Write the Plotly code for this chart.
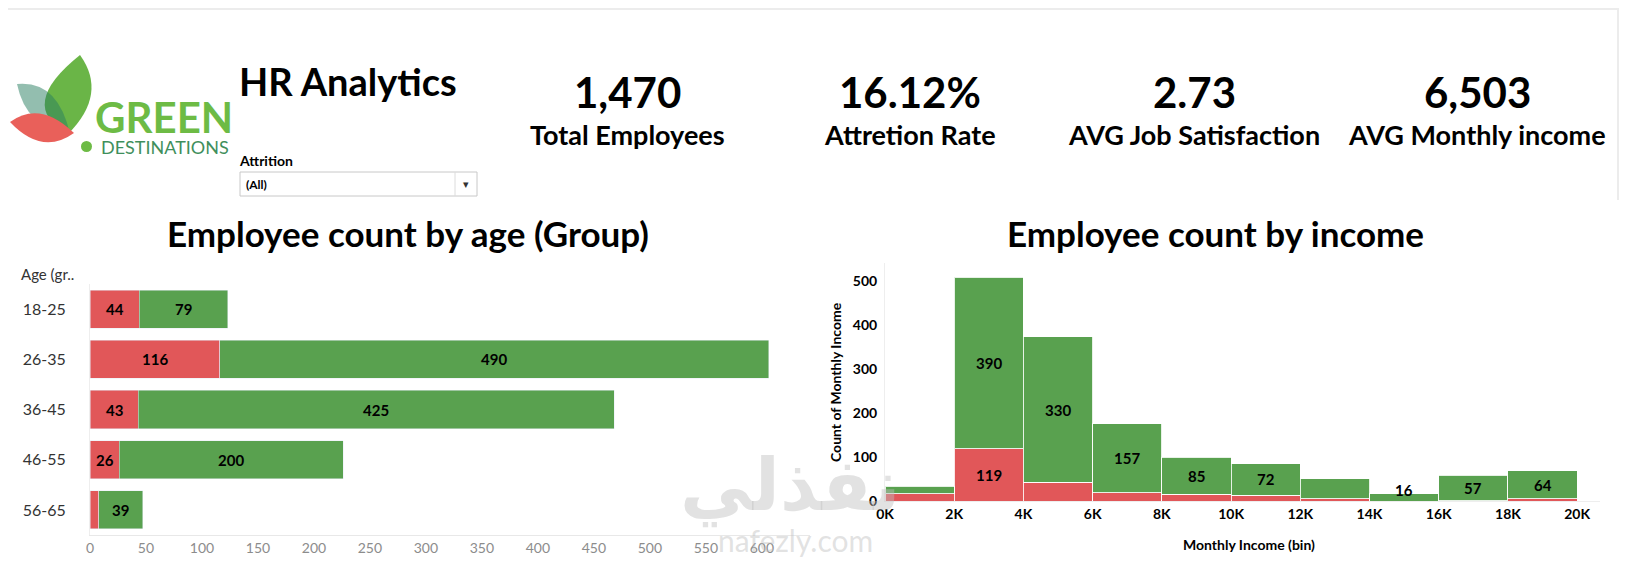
import plotly.graph_objects as go

W, H = 1627, 566
OFF = 8  # the page body margin moves the figure by this much

# --- data -------------------------------------------------------------
age_groups = ["18-25", "26-35", "36-45", "46-55", "56-65"]
age_left = [44, 116, 43, 26, 8]          # attrition = Yes (red)
age_stayed = [79, 490, 425, 200, 39]     # attrition = No (green)
age_ticks = [0, 50, 100, 150, 200, 250, 300, 350, 400, 450, 500, 550, 600]

income_bins = [0, 2000, 4000, 6000, 8000, 10000, 12000, 14000, 16000, 18000]
income_left = [17, 119, 43, 19, 15, 13, 5, 0, 1, 5]
income_stayed = [16, 390, 330, 157, 85, 72, 46, 16, 57, 64]
show_left_label = [False, True, False, False, False, False, False, False, False, False]
show_stayed_label = [False, True, True, True, True, True, False, True, True, True]
income_ticks = [0, 2000, 4000, 6000, 8000, 10000, 12000, 14000, 16000, 18000, 20000]
income_ticktext = ["0K", "2K", "4K", "6K", "8K", "10K", "12K", "14K", "16K", "18K", "20K"]
count_ticks = [0, 100, 200, 300, 400, 500]

kpi_values = ["1,470", "16.12%", "2.73", "6,503"]
kpi_labels = ["Total Employees", "Attretion Rate", "AVG Job Satisfaction", "AVG Monthly income"]

RED = "#e15759"
GREEN = "#59a14f"
FONT = "Lato"
FW, FH = W - OFF, H - OFF


def px(x):
    return (x - OFF) / FW


def py(y):
    return 1 - (y - OFF) / FH


def text(x, y, s, font, **kw):
    d = dict(x=px(x), y=py(y), xref="paper", yref="paper", text=s, showarrow=False,
             xanchor="center", yanchor="middle", font=font)
    d.update(kw)
    return d


fig = go.Figure()

# age chart (left)
fig.add_trace(go.Bar(y=age_groups, x=age_left, orientation="h", marker_color=RED,
                     xaxis="x", yaxis="y", name="Yes"))
fig.add_trace(go.Bar(y=age_groups, x=age_stayed, orientation="h", marker_color=GREEN,
                     xaxis="x", yaxis="y", name="No"))

# income histogram (right)
fig.add_trace(go.Bar(x=income_bins, y=income_left, width=2000, offset=0, marker_color=RED,
                     marker_line=dict(color="rgba(255,255,255,0.85)", width=1),
                     xaxis="x2", yaxis="y2", name="Yes"))
fig.add_trace(go.Bar(x=income_bins, y=income_stayed, width=2000, offset=0, marker_color=GREEN,
                     marker_line=dict(color="rgba(255,255,255,0.85)", width=1),
                     xaxis="x2", yaxis="y2", name="No"))

label_font = dict(family=FONT, size=15, color="black", weight="bold")
ann = []

# bar labels, age
for g, l, s in zip(age_groups, age_left, age_stayed):
    if l >= 20:
        ann.append(dict(x=l / 2, y=g, xref="x", yref="y", text=str(l), showarrow=False,
                        xanchor="center", yanchor="middle", font=label_font))
    ann.append(dict(x=l + s / 2, y=g, xref="x", yref="y", text=str(s), showarrow=False,
                    xanchor="center", yanchor="middle", font=label_font))

# bar labels, income
for b, l, s, sl, ss in zip(income_bins, income_left, income_stayed, show_left_label, show_stayed_label):
    if sl:
        ann.append(dict(x=b + 1000, y=l / 2, xref="x2", yref="y2", text=str(l), showarrow=False,
                        xanchor="center", yanchor="middle", font=label_font))
    if ss:
        ann.append(dict(x=b + 1000, y=l + s / 2, xref="x2", yref="y2", text=str(s), showarrow=False,
                        xanchor="center", yanchor="middle", font=label_font,
                        yshift=7 if s < 30 else 0))

# KPIs
kpi_x = [627, 910, 1194, 1477]
for x, v, lab in zip(kpi_x, kpi_values, kpi_labels):
    ann.append(text(x, 92, v, dict(family=FONT, size=42, color="black", weight="bold")))
    ann.append(text(x, 135, lab, dict(family=FONT, size=27, color="black", weight="bold")))

# headings
ann += [
    text(237, 81, "HR Analytics", dict(family=FONT, size=38, color="black", weight="bold"), xanchor="left"),
    text(237, 160, "Attrition", dict(family=FONT, size=14, color="black", weight="bold"), xanchor="left"),
    text(244, 185, "(All)", dict(family=FONT, size=12, color="black", weight="bold"), xanchor="left"),
    text(466, 184, "▾", dict(family="DejaVu Sans", size=11, color="#333")),
    text(408, 233, "Employee count by age (Group)", dict(family=FONT, size=35, color="black", weight="bold")),
    text(1215, 233, "Employee count by income", dict(family=FONT, size=35, color="black", weight="bold")),
    text(19, 274, "Age (gr..", dict(family=FONT, size=15, color="#333"), xanchor="left"),
    text(835, 382, "Count of Monthly Income", dict(family=FONT, size=14, color="black", weight="bold"),
         textangle=-90),
    text(1249, 544, "Monthly Income (bin)", dict(family=FONT, size=14, color="black", weight="bold")),
    # logo text
    text(93, 117, "GREEN", dict(family=FONT, size=42, color="#6dbb45", weight="bold"), xanchor="left"),
    text(99, 147, "DESTINATIONS", dict(family=FONT, size=18, color="#3f8f5c"), xanchor="left"),
    # watermark
    text(790, 485, "نفذلي", dict(family="DejaVu Sans", size=72, color="rgba(190,190,190,0.45)", weight="bold")),
    text(795, 540, "nafezly.com", dict(family=FONT, size=30, color="rgba(190,190,190,0.45)")),
]


def leaf(tip, c1, base, c2):
    return "M {} {} Q {} {} {} {} Q {} {} {} {} Z".format(
        px(tip[0]), py(tip[1]), px(c1[0]), py(c1[1]), px(base[0]), py(base[1]),
        px(c2[0]), py(c2[1]), px(tip[0]), py(tip[1]))


shapes = [
    # logo leaves
    dict(type="path", xref="paper", yref="paper", line_width=0, fillcolor="#6ab547",
         path=leaf((80, 55), (16, 106), (68, 134), (108, 94))),
    dict(type="path", xref="paper", yref="paper", line_width=0, fillcolor="rgba(40,125,95,0.5)",
         path=leaf((17, 84), (58, 80), (70, 134), (26, 128))),
    dict(type="path", xref="paper", yref="paper", line_width=0, fillcolor="#e9605a",
         path=leaf((10, 122), (40, 100), (74, 133), (42, 156))),
    dict(type="circle", xref="paper", yref="paper", line_width=0, fillcolor="#6dbb45",
         x0=px(81), x1=px(92), y0=py(152), y1=py(141)),
    # dropdown box
    dict(type="rect", xref="paper", yref="paper", line=dict(color="#c8c8c8", width=1),
         x0=px(240), x1=px(477), y0=py(196), y1=py(172)),
    dict(type="line", xref="paper", yref="paper", line=dict(color="#dcdcdc", width=1),
         x0=px(455), x1=px(455), y0=py(196), y1=py(172)),
    # frame lines
    dict(type="line", xref="paper", yref="paper", line=dict(color="#ececec", width=2),
         x0=0, x1=1, y0=py(9), y1=py(9)),
    dict(type="line", xref="paper", yref="paper", line=dict(color="#ececec", width=2),
         x0=px(1618), x1=px(1618), y0=py(9), y1=py(200)),
]

tick_bold = dict(family=FONT, size=14, color="black", weight="bold")

fig.update_layout(
    width=FW, height=FH,
    margin=dict(l=0, r=0, t=0, b=0),
    paper_bgcolor="white", plot_bgcolor="white",
    barmode="stack", bargap=0.24, showlegend=False,
    annotations=ann, shapes=shapes,
    xaxis=dict(domain=[px(90), px(810)], range=[0, 643], tickvals=age_ticks, automargin=False,
               showgrid=False, zeroline=False, showline=True, linecolor="#e8e8e8",
               tickfont=dict(family=FONT, size=14, color="#8c8c8c"), anchor="y"),
    yaxis=dict(domain=[py(535), py(284)], type="category", categoryorder="array", automargin=False,
               categoryarray=age_groups, autorange="reversed", showgrid=False,
               zeroline=False, showline=True, linecolor="#eeeeee", ticklabelstandoff=20,
               tickfont=dict(family=FONT, size=16, color="#333"), anchor="x"),
    xaxis2=dict(domain=[px(885), px(1600)], range=[0, 20660], tickvals=income_ticks, automargin=False,
                ticktext=income_ticktext, showgrid=False, zeroline=False, showline=True,
                linecolor="#eeeeee", tickfont=tick_bold, anchor="y2"),
    yaxis2=dict(domain=[py(501), py(263)], range=[0, 541], tickvals=count_ticks, automargin=False,
                showgrid=False, zeroline=False, showline=True, linecolor="#eeeeee",
                ticklabelstandoff=4, tickfont=tick_bold, anchor="x2"),
)

fig.write_html("out.html")
